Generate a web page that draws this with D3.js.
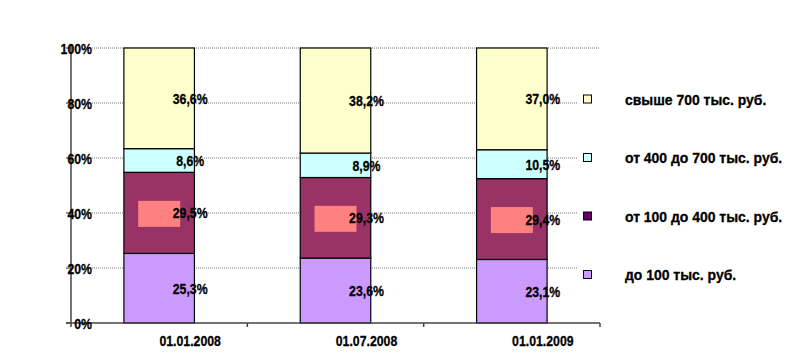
<!DOCTYPE html>
<html><head><meta charset="utf-8">
<script src="https://cdn.jsdelivr.net/npm/d3@7"></script>
<style>
body{margin:0;background:#fff;}
text{font-family:"Liberation Sans",Arial,sans-serif;font-weight:bold;font-size:15px;fill:#000;stroke:#000;stroke-width:0.3px;}
</style></head>
<body><svg id="c" width="787" height="364"></svg>
<script>
const categories = ["01.01.2008", "01.07.2008", "01.01.2009"];
const seriesNames = ["до 100 тыс. руб.", "от 100 до 400 тыс. руб.", "от 400 до 700 тыс. руб.", "свыше 700 тыс. руб."];
const s1 = [25.3, 23.6, 23.1];
const s2 = [29.5, 29.3, 29.4];
const s3 = [8.6, 8.9, 10.5];
const s4 = [36.6, 38.2, 37.0];
const yTicks = [0, 20, 40, 60, 80, 100];
const barColors = ["#CC99FF", "#993366", "#CCFFFF", "#FFFFCC"];
const legendColors = ["#CC99FF", "#660066", "#CCFFFF", "#FFFFCC"];

const series = [s1, s2, s3, s4];
const place = (xf, yf, sx = 0.82) => d => `translate(${xf(d)},${yf(d)}) scale(${sx},1)`;
const svg = d3.select("#c");
svg.append("rect").attr("width",787).attr("height",364).attr("fill","#fff");

const x = d3.scaleBand().domain(categories).range([71, 600]).paddingInner(0.6).paddingOuter(0.3);
const y = d3.scaleLinear().domain([0, 100]).range([323, 48]);
const fmt = v => v.toFixed(1).replace(".", ",") + "%";

// gridlines
svg.append("g").selectAll("line").data(yTicks.filter(t => t > 0)).join("line")
  .attr("x1", 92).attr("x2", 600).attr("y1", d => y(d)).attr("y2", d => y(d))
  .attr("stroke", "#777").attr("stroke-width", 1).attr("stroke-dasharray", "1,1");

// stacked bars
const table = categories.map((c, i) => {
  const o = {cat: c};
  seriesNames.forEach((n, k) => o[n] = series[k][i]);
  return o;
});
const stack = d3.stack().keys(seriesNames)(table);
const gBars = svg.append("g");
stack.forEach((layer, k) => {
  gBars.selectAll(null).data(layer).join("rect")
    .attr("x", d => x(d.data.cat)).attr("width", x.bandwidth())
    .attr("y", d => y(d[1])).attr("height", d => y(d[0]) - y(d[1]))
    .attr("fill", barColors[k]).attr("stroke", "#000").attr("stroke-width", 1.2);
});
// pink label backgrounds in second series
gBars.selectAll(null).data(stack[1]).join("rect")
  .attr("x", d => x(d.data.cat) + x.bandwidth()/2 - 21).attr("width", 42)
  .attr("y", d => y((d[0]+d[1])/2) - 12).attr("height", 26)
  .attr("fill", "#FF8080");

// data labels
stack.forEach((layer, k) => {
  svg.append("g").selectAll("text").data(layer).join("text")
    .attr("transform", place(d => x(d.data.cat) + x.bandwidth()/2 + 31, d => y((d[0]+d[1])/2) + 5.5))
    .attr("text-anchor", "middle")
    .text(d => fmt(d[1]-d[0]));
});

// axes
svg.append("line").attr("x1", 71).attr("x2", 71).attr("y1", 44).attr("y2", 327)
  .attr("stroke", "#444").attr("stroke-width", 1.5);
svg.append("line").attr("x1", 66).attr("x2", 600).attr("y1", 323).attr("y2", 323)
  .attr("stroke", "#444").attr("stroke-width", 1.5);
const bounds = categories.map(c => x(c) - x.step()*x.paddingInner()/2 + x.step());
svg.append("g").selectAll("line").data(bounds).join("line")
  .attr("x1", d => d).attr("x2", d => d).attr("y1", 323).attr("y2", 327)
  .attr("stroke", "#444").attr("stroke-width", 1.5);
svg.append("g").selectAll("line").data(yTicks).join("line")
  .attr("x1", 66).attr("x2", 71).attr("y1", d => y(d)).attr("y2", d => y(d))
  .attr("stroke", "#444").attr("stroke-width", 1.2);

// y tick labels
svg.append("g").selectAll("text").data(yTicks).join("text")
  .attr("transform", place(() => 92, d => y(d) + 5.5)).attr("text-anchor", "end")
  .text(d => d + "%");

// x labels
svg.append("g").selectAll("text").data(categories).join("text")
  .attr("transform", place(d => x(d) + x.bandwidth()/2 + 31, () => 346)).attr("text-anchor", "middle")
  .text(d => d);

// legend
svg.append("rect").attr("x", 577).attr("y", 62).attr("width", 210).attr("height", 240).attr("fill", "#fff");
const legendOrder = [3, 2, 1, 0];
const ly = d3.scalePoint().domain(legendOrder).range([99, 274.5]);
const lg = svg.append("g");
lg.selectAll("rect").data(legendOrder).join("rect")
  .attr("x", 583.5).attr("y", d => ly(d) - 4).attr("width", 8).attr("height", 8)
  .attr("fill", d => legendColors[d]).attr("stroke", "#000").attr("stroke-width", 1);
lg.selectAll("text").data(legendOrder).join("text")
  .attr("transform", place(() => 625, d => ly(d) + 5.5, 0.93))
  .text(d => seriesNames[d]);
</script></body></html>
